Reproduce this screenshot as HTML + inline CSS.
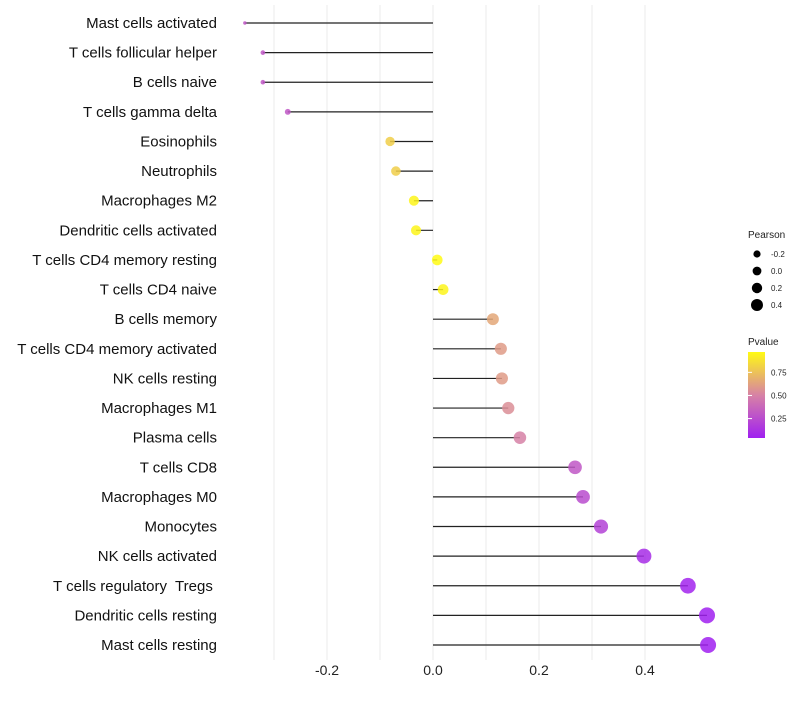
<!DOCTYPE html>
<html><head><meta charset="utf-8"><style>
body{margin:0;background:#fff;font-family:"Liberation Sans",sans-serif}
</style></head><body>
<svg id="c" width="800" height="700" xmlns="http://www.w3.org/2000/svg" font-family="Liberation Sans, sans-serif"></svg>
<script>
const categories=["Mast cells activated","T cells follicular helper","B cells naive","T cells gamma delta","Eosinophils","Neutrophils","Macrophages M2","Dendritic cells activated","T cells CD4 memory resting","T cells CD4 naive","B cells memory","T cells CD4 memory activated","NK cells resting","Macrophages M1","Plasma cells","T cells CD8","Macrophages M0","Monocytes","NK cells activated","T cells regulatory  Tregs ","Dendritic cells resting","Mast cells resting"];
const pearson=[-0.355,-0.321,-0.321,-0.274,-0.081,-0.070,-0.036,-0.032,0.008,0.019,0.113,0.128,0.130,0.142,0.164,0.268,0.283,0.317,0.398,0.481,0.517,0.519];
const pvalues=[0.30,0.30,0.30,0.30,0.80,0.80,0.95,0.95,0.97,0.95,0.65,0.60,0.60,0.55,0.50,0.30,0.25,0.20,0.10,0.06,0.04,0.04];
const xTicks=[-0.2,0,0.2,0.4];
const xTickLabels=["-0.2","0.0","0.2","0.4"];
const gridVals=[-0.3,-0.2,-0.1,0,0.1,0.2,0.3,0.4];
const sizeLegend=[-0.2,0,0.2,0.4];
const sizeLegendLabels=["-0.2","0.0","0.2","0.4"];
const colorLegend=[0.75,0.5,0.25];
const colorLegendLabels=["0.75","0.50","0.25"];

const svg=document.getElementById('c');
const NS="http://www.w3.org/2000/svg";
const x=v=>433+v*530;
const y=i=>23+i*(622/21);
const r=v=>Math.sqrt(3+Math.max(0,v+0.355)*70);
const rl=v=>3.6+(v+0.2)*4;
function col(p){
  const a=[160,32,240],m=[215,130,165],b=[255,250,20];
  let t=(p-0.04)/0.93;t=Math.max(0,Math.min(1,t));
  let c0,c1,u;if(t<0.5){c0=a;c1=m;u=t/0.5}else{c0=m;c1=b;u=(t-0.5)/0.5}
  return `rgb(${c0.map((v,k)=>Math.round(v+(c1[k]-v)*u)).join(',')})`;
}
function el(tag,attrs,txt){const e=document.createElementNS(NS,tag);for(const k in attrs)e.setAttribute(k,attrs[k]);if(txt!==undefined)e.textContent=txt;svg.appendChild(e);return e;}

gridVals.forEach(g=>{
  const l=el('line',{x1:x(g),x2:x(g),y1:5,y2:660,stroke:'#ebebeb','stroke-width':1});
  
  
});
xTicks.forEach((t,i)=>{
  const tx=el('text',{x:x(t),y:675,'text-anchor':'middle','font-size':14,fill:'#222'},xTickLabels[i]);
  
  
});
categories.forEach((c,i)=>{
  const lab=el('text',{x:217,y:y(i)+5,'text-anchor':'end','font-size':15,fill:'#111',style:'white-space:pre'},c);
  
  
  const s=el('line',{x1:x(0),x2:x(pearson[i]),y1:y(i),y2:y(i),stroke:'#222','stroke-width':1.2});
  
  
  const d=el('circle',{cx:x(pearson[i]),cy:y(i),r:r(pearson[i]),fill:col(pvalues[i]),'fill-opacity':0.85});
  
  
});
const st=el('text',{x:748,y:238,'font-size':10,fill:'#222'},'Pearson');


sizeLegend.forEach((v,i)=>{
  const cy=254+i*17;
  const c=el('circle',{cx:757,cy:cy,r:rl(v),fill:'#000'});
  
  
  const t=el('text',{x:771,y:cy+3,'font-size':8,fill:'#222'},sizeLegendLabels[i]);
  
  
});
const ct=el('text',{x:748,y:345,'font-size':10,fill:'#222'},'Pvalue');


const defs=el('defs',{});
const lg=document.createElementNS(NS,'linearGradient');lg.setAttribute('id','g');lg.setAttribute('x1','0');lg.setAttribute('y1','1');lg.setAttribute('x2','0');lg.setAttribute('y2','0');
[0,0.25,0.5,0.75,1].forEach(o=>{const s=document.createElementNS(NS,'stop');s.setAttribute('offset',o);s.setAttribute('stop-color',col(0.04+o*0.93));lg.appendChild(s);});
defs.appendChild(lg);
const bar=el('rect',{x:748,y:352,width:17,height:86,fill:'url(#g)'});


colorLegend.forEach((v,i)=>{
  const cy=352+(0.97-v)/0.93*86;
  const tk=el('line',{x1:748,x2:752,y1:cy,y2:cy,stroke:'#fff','stroke-width':1});
  
  
  const t=el('text',{x:771,y:cy+3,'font-size':8,fill:'#222'},colorLegendLabels[i]);
  
  
});
</script>
</body></html>
